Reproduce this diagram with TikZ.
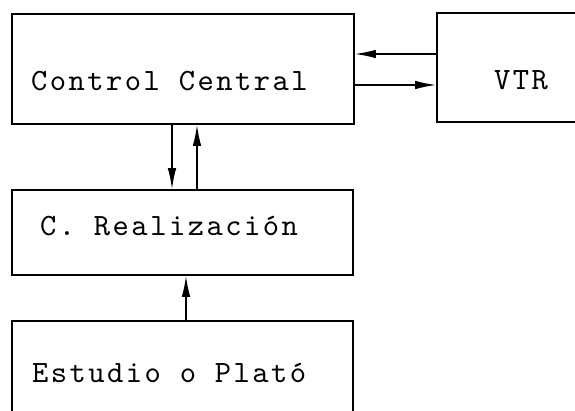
\documentclass[tikz,border=0pt]{standalone}
\usepackage{fontspec}
\newfontfamily\boxfont{lmmono10-regular.otf}[LetterSpace=8]
\usetikzlibrary{arrows.meta}

\begin{document}
\begin{tikzpicture}[x=1pt, y=-1pt]
        \tikzset{blok/.style={draw, line width=1.6pt, inner sep=0pt}}
        \tikzset{tag/.style={anchor=base west, inner sep=0pt, font=\boxfont\fontsize{31}{32}\selectfont}}
        \tikzset{flow/.style={line width=1.5pt, -{Latex[length=21pt, width=8.5pt]}}}

        \useasboundingbox (0,0) rectangle (575,411);
        \clip (0,0) rectangle (575,411);

        % boxes
        \node[blok, minimum width=342pt, minimum height=110pt] (cc) at (183,69) {};
        \node[blok, minimum width=170pt, minimum height=109pt] (vtr) at (522,67.5) {};
        \node[blok, minimum width=341pt, minimum height=85pt] (cr) at (182.5,232.5) {};
        \node[blok, minimum width=341pt, minimum height=120pt] (ep) at (182.5,381) {};

        % labels
        \node[tag] (cctxt) at (31,91) {Control Central};
        \node[tag] (vtrtxt) at (494,90) {VTR};
        \node[tag] (crtxt) at (40,236) {C. Realización};
        \node[tag] (eptxt) at (32,382) {Estudio o Plató};

        % signal lines
        \coordinate (hi) at (0,54);
        \coordinate (lo) at (0,85);
        \coordinate (dn) at (172,0);
        \coordinate (up) at (197,0);
        \coordinate (mid) at (186,0);

        \draw[flow] (vtr.west |- hi) -- (cc.east |- hi);
        \draw[flow] (cc.east |- lo) -- (vtr.west |- lo);
        \draw[flow] (cc.south -| dn) -- (cr.north -| dn);
        \draw[flow] (cr.north -| up) -- (cc.south -| up);
        \draw[flow] (ep.north -| mid) -- (cr.south -| mid);

    \end{tikzpicture}
\end{document}
